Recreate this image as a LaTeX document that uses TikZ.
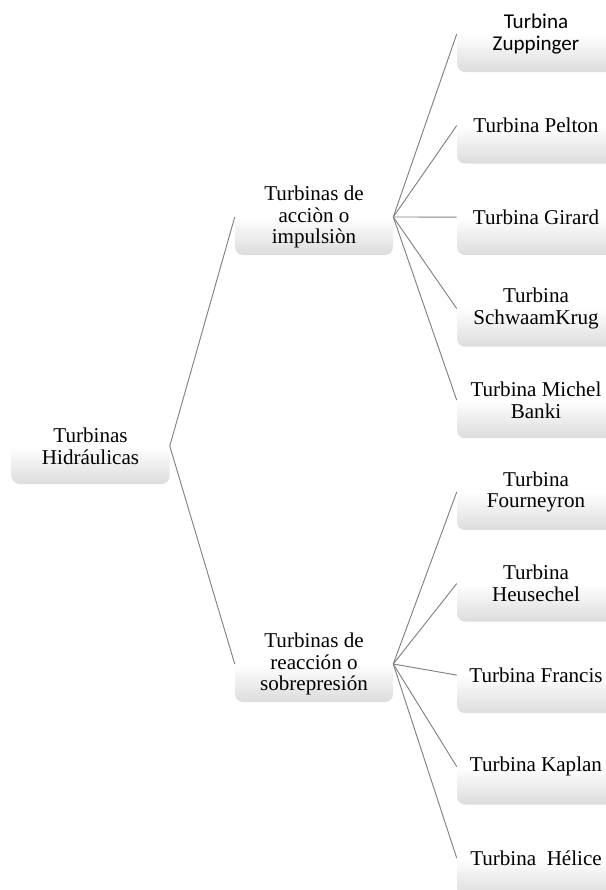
\documentclass[tikz,border=0pt]{standalone}
\usepackage{fontspec}
\setmainfont{Liberation Serif}
\newfontfamily\calibrifont{Carlito}
\usepackage{tikz}
\usetikzlibrary{positioning}
\definecolor{thgrey}{RGB}{128,128,128}
\definecolor{thshade}{RGB}{220,220,220}
\tikzset{
  box/.style={rounded corners=6pt, top color=white, bottom color=thshade,
              middle color=white, align=center, minimum width=118.5pt,
              minimum height=57pt, inner sep=2pt,
              font=\fontsize{15.8}{16.2}\selectfont},
  sbox/.style={box, font=\calibrifont\fontsize{15.8}{16.2}\selectfont},
  link/.style={draw=thgrey, line width=0.7pt},
}
\begin{document}
\begin{tikzpicture}[x=0.75pt, y=-0.75pt, node distance=11.25pt]
\useasboundingbox (0,0) rectangle (606,890);
\node[box] (root) at (90.5,446) {Turbinas\\Hidráulicas};
\node[box] (acc) at (314,217) {Turbinas de\\acciòn o\\impulsiòn};
\node[box] (rea) at (314,664) {Turbinas de\\reacción o\\sobrepresión};
\node[sbox] (zup) at (536,34) {Turbina\\Zuppinger};
\node[box, below=of zup] (pel) {Turbina Pelton};
\node[box, below=of pel] (gir) {Turbina Girard};
\node[box, below=of gir] (sch) {Turbina\\SchwaamKrug};
\node[box, below=of sch] (ban) {Turbina Michel\\Banki};
\node[box] (fou) at (536,492) {Turbina\\Fourneyron};
\node[box, below=of fou] (heu) {Turbina\\Heusechel};
\node[box, below=of heu] (fra) {Turbina Francis};
\node[box, below=of fra] (kap) {Turbina Kaplan};
\node[box, below=of kap] (hel) {Turbina\ \ Hélice};
\draw[link] (root.east) -- (acc.west);
\draw[link] (root.east) -- (rea.west);
\draw[link] (acc.east) -- (zup.west);
\draw[link] (acc.east) -- (pel.west);
\draw[link] (acc.east) -- (gir.west);
\draw[link] (acc.east) -- (sch.west);
\draw[link] (acc.east) -- (ban.west);
\draw[link] (rea.east) -- (fou.west);
\draw[link] (rea.east) -- (heu.west);
\draw[link] (rea.east) -- (fra.west);
\draw[link] (rea.east) -- (kap.west);
\draw[link] (rea.east) -- (hel.west);
\end{tikzpicture}
\end{document}
